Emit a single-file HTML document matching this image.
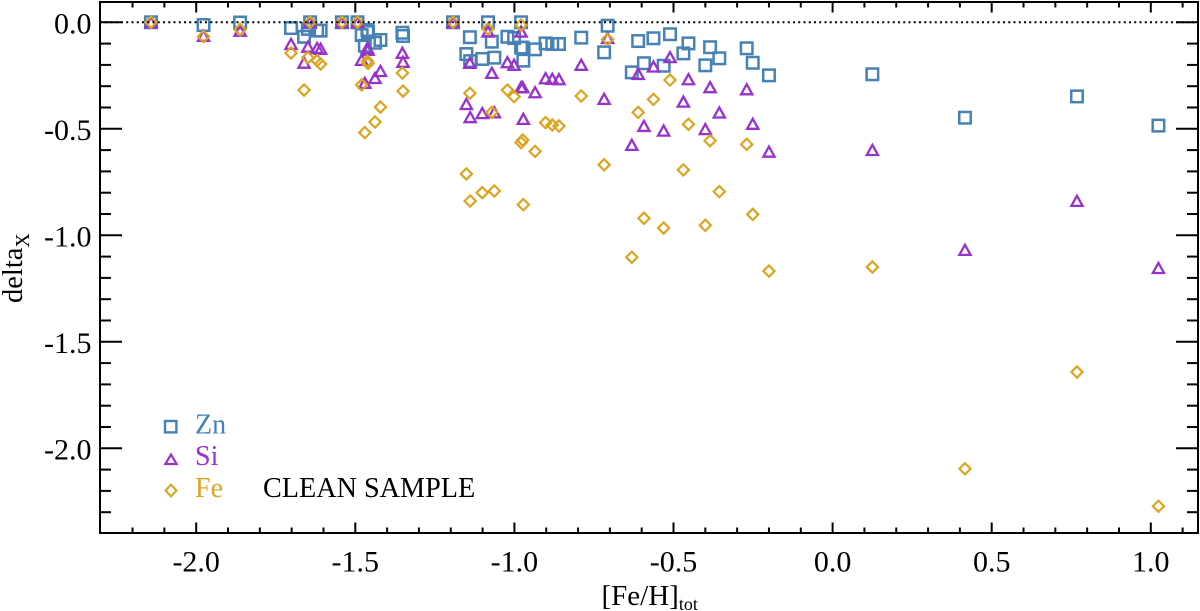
<!DOCTYPE html>
<html lang="en">
<head>
<meta charset="utf-8">
<title>delta X vs [Fe/H] clean sample</title>
<style>
html,body{margin:0;padding:0;background:#fff;}
body{width:1200px;height:611px;overflow:hidden;}
svg{display:block;}
text{font-family:"Liberation Serif","Times New Roman",serif;fill:#000;}
</style>
</head>
<body>
<svg id="chart" xmlns="http://www.w3.org/2000/svg" width="1200" height="611" viewBox="0 0 1200 611">
  <rect x="0" y="0" width="1200" height="611" fill="#fff"/>
  <g id="marks"></g>
  <g id="axes"></g>
  <text transform="translate(22,303) rotate(-90)" font-size="28.5">delta<tspan font-size="20" dy="7">X</tspan></text>
  <text x="601.5" y="605" font-size="29">[Fe/H]<tspan font-size="18" dy="5">tot</tspan></text>
  <g>
    <rect x="165" y="421" width="11.4" height="11.4" fill="none" stroke="#4682b4" stroke-width="2.4"/>
    <text x="195" y="433.5" font-size="28" style="fill:#4682b4">Zn</text>
    <path d="M171,454.5 L176.6,464 L165.4,464 Z" fill="none" stroke="#9932cc" stroke-width="2.2"/>
    <text x="195" y="465" font-size="28" style="fill:#9932cc">Si</text>
    <path d="M171,484.7 L176.5,490.5 L171,496.3 L165.5,490.5 Z" fill="none" stroke="#daa520" stroke-width="2.1"/>
    <text x="195" y="496.8" font-size="28" style="fill:#daa520">Fe</text>
  </g>
  <text x="263" y="497" font-size="28.2">CLEAN SAMPLE</text>
</svg>
<script>
const metallicity = [-2.142,-1.977,-1.862,-1.702,-1.661,-1.649,-1.642,-1.620,-1.609,-1.542,-1.493,-1.480,-1.470,-1.462,-1.460,-1.438,-1.421,-1.352,-1.350,-1.193,-1.151,-1.140,-1.139,-1.101,-1.083,-1.071,-1.063,-1.022,-1.001,-0.979,-0.979,-0.974,-0.972,-0.935,-0.902,-0.881,-0.860,-0.790,-0.718,-0.707,-0.631,-0.611,-0.593,-0.563,-0.531,-0.511,-0.469,-0.453,-0.400,-0.385,-0.356,-0.270,-0.251,-0.200,0.125,0.416,0.768,1.024];
const deltaZn = [0,-0.013,-0.001,-0.027,-0.068,-0.031,0,-0.039,-0.039,0,0,-0.060,-0.110,-0.036,-0.046,-0.096,-0.083,-0.049,-0.064,0,-0.149,-0.070,-0.182,-0.172,0,-0.091,-0.166,-0.068,-0.074,0,-0.119,-0.119,-0.180,-0.127,-0.099,-0.102,-0.102,-0.072,-0.141,-0.016,-0.235,-0.088,-0.192,-0.075,-0.204,-0.056,-0.146,-0.099,-0.202,-0.117,-0.169,-0.122,-0.190,-0.249,-0.244,-0.448,-0.348,-0.485];
const deltaSi = [0,-0.064,-0.040,-0.102,-0.190,-0.115,0,-0.121,-0.125,0,0,-0.177,-0.285,-0.121,-0.130,-0.262,-0.229,-0.144,-0.186,0,-0.384,-0.191,-0.446,-0.427,-0.044,-0.238,-0.423,-0.188,-0.200,-0.044,-0.305,-0.305,-0.454,-0.329,-0.263,-0.266,-0.268,-0.200,-0.360,-0.074,-0.576,-0.243,-0.487,-0.208,-0.509,-0.164,-0.373,-0.268,-0.502,-0.305,-0.424,-0.315,-0.477,-0.608,-0.600,-1.069,-0.839,-1.154];
const deltaFe = [0,-0.067,-0.034,-0.144,-0.318,-0.166,0,-0.180,-0.196,0,0,-0.294,-0.518,-0.182,-0.193,-0.468,-0.398,-0.238,-0.323,0,-0.712,-0.333,-0.839,-0.800,-0.031,-0.423,-0.792,-0.318,-0.349,-0.013,-0.565,-0.553,-0.856,-0.606,-0.471,-0.482,-0.487,-0.346,-0.669,-0.080,-1.103,-0.423,-0.920,-0.362,-0.966,-0.271,-0.693,-0.479,-0.953,-0.556,-0.795,-0.573,-0.902,-1.168,-1.149,-2.096,-1.642,-2.272];
const xMajorTicks = [-2.0,-1.5,-1.0,-0.5,0.0,0.5,1.0];
const xMinorTicks = [-2.2,-2.1,-1.9,-1.8,-1.7,-1.6,-1.4,-1.3,-1.2,-1.1,-0.9,-0.8,-0.7,-0.6,-0.4,-0.3,-0.2,-0.1,0.1,0.2,0.3,0.4,0.6,0.7,0.8,0.9,1.1];
const yMajorTicks = [0.0,-0.5,-1.0,-1.5,-2.0];
const yMinorTicks = [-0.1,-0.2,-0.3,-0.4,-0.6,-0.7,-0.8,-0.9,-1.1,-1.2,-1.3,-1.4,-1.6,-1.7,-1.8,-1.9,-2.1,-2.2,-2.3];

const NS = 'http://www.w3.org/2000/svg';
const plot = {left: 100, right: 1198, top: 2, bottom: 533};
function xScale(v) { return 832.6 + 318.2 * v; }
function yScale(v) { return 22.3 - 213 * v; }

const marks = document.getElementById('marks');
const axes = document.getElementById('axes');

function make(tag, attrs, parent) {
  const el = document.createElementNS(NS, tag);
  Object.keys(attrs).forEach(function (k) { el.setAttribute(k, attrs[k]); });
  parent.appendChild(el);
  return el;
}

// zero reference line
const zeroLine = make('line', {x1: plot.left, x2: plot.right, y1: yScale(0), y2: yScale(0), stroke: '#000', 'stroke-width': 2, 'stroke-dasharray': '2 3.25'}, axes);



// series
metallicity.forEach(function (m, i) {
  const el = make('rect', {x: xScale(m) - 5.75, y: yScale(deltaZn[i]) - 5.75, width: 11.5, height: 11.5, fill: 'none', stroke: '#4682b4', 'stroke-width': 2.5}, marks);
  
  
});
metallicity.forEach(function (m, i) {
  const x = xScale(m), y = yScale(deltaSi[i]);
  const el = make('path', {d: 'M' + x + ',' + (y - 5.2) + ' L' + (x + 5.6) + ',' + (y + 4.9) + ' L' + (x - 5.6) + ',' + (y + 4.9) + ' Z', fill: 'none', stroke: '#9932cc', 'stroke-width': 2.3}, marks);
  
  
});
metallicity.forEach(function (m, i) {
  const x = xScale(m), y = yScale(deltaFe[i]);
  const el = make('path', {d: 'M' + x + ',' + (y - 5.6) + ' L' + (x + 5.6) + ',' + y + ' L' + x + ',' + (y + 5.6) + ' L' + (x - 5.6) + ',' + y + ' Z', fill: 'none', stroke: '#daa520', 'stroke-width': 2.2}, marks);
  
  
});

// frame
const frame = make('rect', {x: plot.left, y: plot.top, width: plot.right - plot.left, height: plot.bottom - plot.top, fill: 'none', stroke: '#000', 'stroke-width': 2}, axes);



function xTick(v, len) {
  const x = xScale(v);
  const bottom = make('line', {x1: x, x2: x, y1: plot.bottom, y2: plot.bottom - len, stroke: '#000', 'stroke-width': 2}, axes);
  
  
  const top = make('line', {x1: x, x2: x, y1: plot.top, y2: plot.top + len, stroke: '#000', 'stroke-width': 2}, axes);
  
  
}
function yTick(v, len) {
  const y = yScale(v);
  const left = make('line', {x1: plot.left, x2: plot.left + len, y1: y, y2: y, stroke: '#000', 'stroke-width': 2}, axes);
  
  
  const right = make('line', {x1: plot.right, x2: plot.right - len, y1: y, y2: y, stroke: '#000', 'stroke-width': 2}, axes);
  
  
}
xMinorTicks.forEach(function (v) { xTick(v, 5.5); });
xMajorTicks.forEach(function (v) { xTick(v, 10.5); });
yMinorTicks.forEach(function (v) { yTick(v, 11); });
yMajorTicks.forEach(function (v) { yTick(v, 22); });

xMajorTicks.forEach(function (v) {
  const t = make('text', {x: xScale(v), y: 571.5, 'text-anchor': 'middle', 'font-size': 30}, axes);
  t.textContent = v.toFixed(1);
  
  
});
yMajorTicks.forEach(function (v) {
  const t = make('text', {x: 91.5, y: yScale(v) + 11, 'text-anchor': 'end', 'font-size': 30}, axes);
  t.textContent = v.toFixed(1);
  
  
});
</script>
</body>
</html>
